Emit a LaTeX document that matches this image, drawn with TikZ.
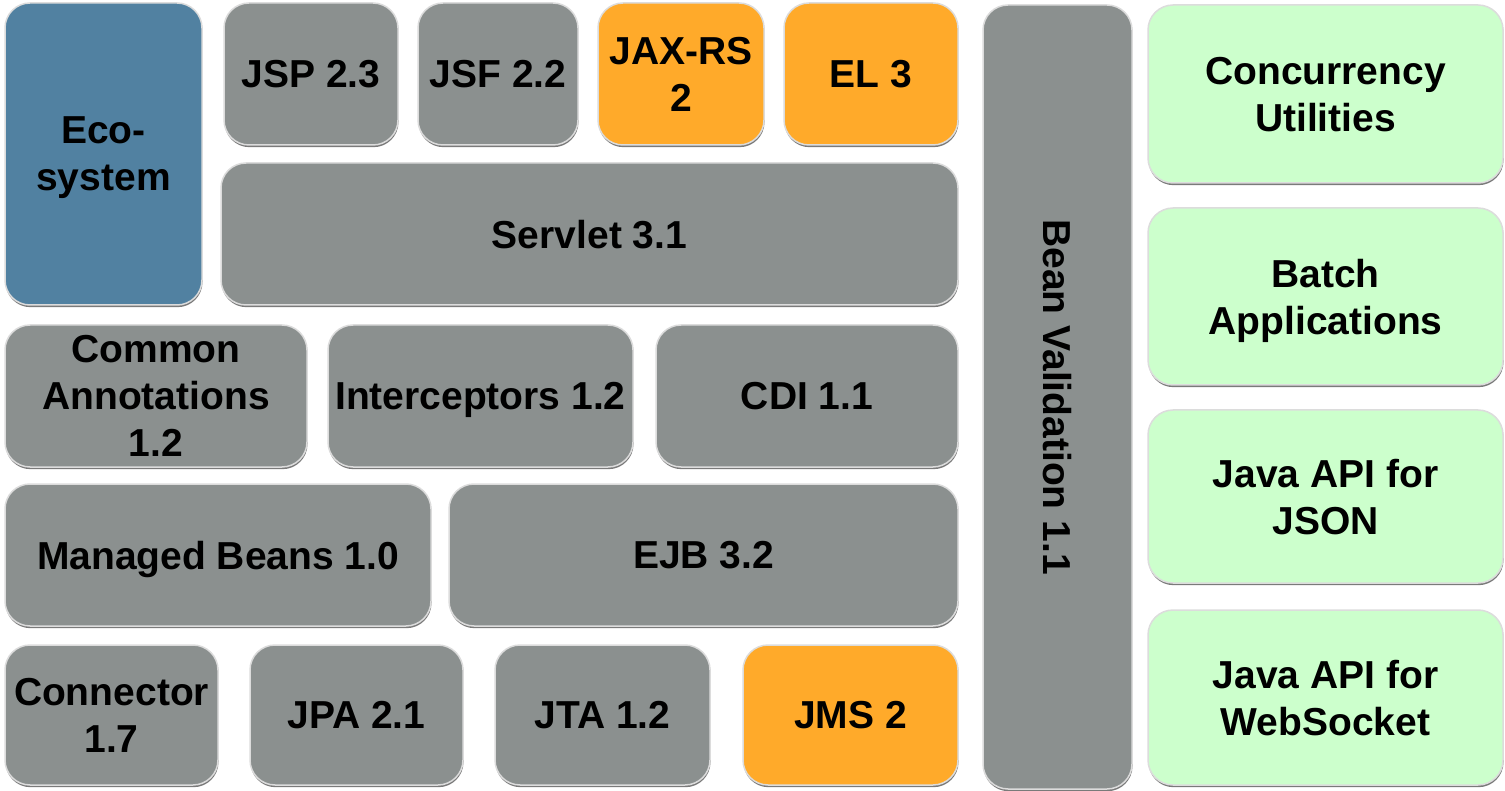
\documentclass[tikz,border=0pt]{standalone}
\usepackage{fontspec}
\setmainfont{Liberation Sans}
\usetikzlibrary{shadows}
\definecolor{boxgray}{HTML}{8B908F}
\definecolor{boxblue}{HTML}{5181A1}
\definecolor{boxorange}{HTML}{FFAA2A}
\definecolor{boxgreen}{HTML}{CCFFCC}
\definecolor{edgegray}{HTML}{DCDCDC}
\definecolor{shadegray}{HTML}{7A7A7A}
\tikzset{
  blk/.style={draw=edgegray, line width=1.5pt, rounded corners=25pt,
    align=center, inner sep=0pt, text depth=0pt,
    font=\bfseries\fontsize{39}{47}\selectfont,
    general shadow={shadow xshift=0.5pt, shadow yshift=-2.2pt, fill=shadegray}},
  lbl/.style={align=center, inner sep=0pt, text depth=0pt, font=\bfseries\fontsize{39}{47}\selectfont},
}
\begin{document}
\begin{tikzpicture}[x=1pt,y=-1pt]
\useasboundingbox (0,0) rectangle (1505,791);
% left stack
\node[blk, fill=boxblue, minimum width=197pt, minimum height=302pt] (eco) at (103.5,154) {Eco-\\system};
\node[blk, fill=boxgray, minimum width=174pt, minimum height=142pt] (jsp) at (311,74) {JSP 2.3};
\node[blk, fill=boxgray, minimum width=160pt, minimum height=142pt] (jsf) at (498,74) {JSF 2.2};
\node[blk, fill=boxorange, minimum width=166pt, minimum height=142pt] (jaxrs) at (681,74) {JAX-RS\\2};
\node[blk, fill=boxorange, minimum width=174pt, minimum height=142pt] (el) at (871,74) {EL 3};
\node[blk, fill=boxgray, minimum width=737pt, minimum height=142pt] (servlet) at (589.5,234) {Servlet 3.1};
\node[blk, fill=boxgray, minimum width=302pt, minimum height=142pt] (common) at (156,396) {Common\\Annotations\\1.2};
\node[blk, fill=boxgray, minimum width=305pt, minimum height=142pt] (inter) at (480.5,396) {Interceptors 1.2};
\node[blk, fill=boxgray, minimum width=302pt, minimum height=142pt] (cdi) at (807,396) {CDI 1.1};
\node[blk, fill=boxgray, minimum width=426pt, minimum height=142pt] (managed) at (218,555) {Managed Beans 1.0};
\node[blk, fill=boxgray, minimum width=509pt, minimum height=142pt] (ejb) at (703.5,555) {EJB 3.2};
\node[blk, fill=boxgray, minimum width=213pt, minimum height=140pt] (connector) at (111.5,715) {Connector\\1.7};
\node[blk, fill=boxgray, minimum width=213pt, minimum height=140pt] (jpa) at (356.5,715) {JPA 2.1};
\node[blk, fill=boxgray, minimum width=215pt, minimum height=140pt] (jta) at (602.5,715) {JTA 1.2};
\node[blk, fill=boxorange, minimum width=215pt, minimum height=140pt] (jms) at (850.5,715) {JMS 2};
% bean validation
\node[blk, fill=boxgray, minimum width=149pt, minimum height=784pt] (bean) at (1057.5,397) {};
\node[lbl, rotate=-90] (beantext) at (bean.center) {Bean Validation 1.1};
% right column
\node[blk, fill=boxgreen, minimum width=355pt, minimum height=178pt] (conc) at (1325.5,94) {Concurrency\\Utilities};
\node[blk, fill=boxgreen, minimum width=355pt, minimum height=177pt] (batch) at (1325.5,296.5) {Batch\\Applications};
\node[blk, fill=boxgreen, minimum width=355pt, minimum height=173pt] (json) at (1325.5,496.5) {Java API for\\JSON};
\node[blk, fill=boxgreen, minimum width=355pt, minimum height=175pt] (ws) at (1325.5,697.5) {Java API for\\WebSocket};
\end{tikzpicture}
\end{document}
